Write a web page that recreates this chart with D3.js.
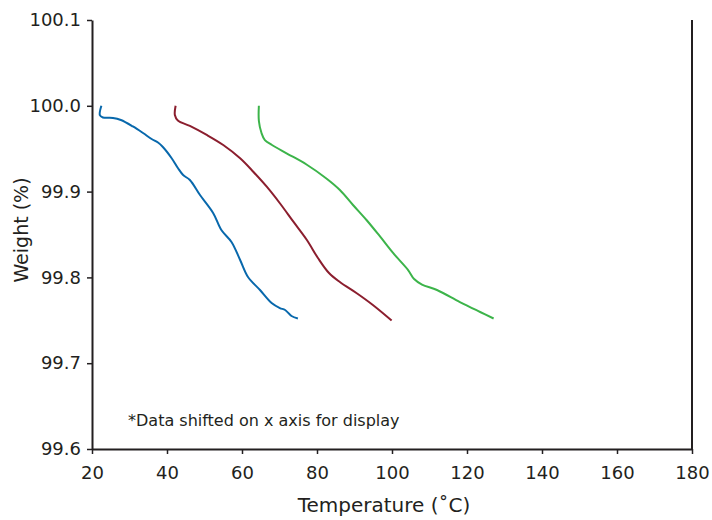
<!DOCTYPE html>
<html>
<head>
<meta charset="utf-8">
<script src="https://cdn.jsdelivr.net/npm/d3@7"></script>
<style>
  body { margin: 0; background: #fff; }
  svg text { font-family: "DejaVu Sans", sans-serif; fill: #231f20; }
</style>
</head>
<body>
<svg id="graph" width="712" height="520"></svg>
<script>
// x ticks / y ticks
const xTicks = [20, 40, 60, 80, 100, 120, 140, 160, 180];
const yTicks = [99.6, 99.7, 99.8, 99.9, 100.0, 100.1];

// sample 1 (blue)
const blueTemp = [22.5, 22.1, 22.9, 25.6, 27.7, 30.9, 33.6, 35.9, 37.6, 38.9, 41.2, 42.9, 44.3, 46.1, 48.8, 52.3, 54.5, 57.2, 59.5, 61.6, 64.8, 67.9, 70.1, 71.5, 73.2, 74.9];
const blueWeight = [100.0, 99.989, 99.9864, 99.9858, 99.9834, 99.9759, 99.9683, 99.9613, 99.9572, 99.952, 99.9392, 99.9275, 99.9193, 99.9135, 99.896, 99.8751, 99.8552, 99.8413, 99.8203, 99.8005, 99.7853, 99.7702, 99.7643, 99.762, 99.755, 99.7521];

// sample 2 (maroon)
const redTemp = [42.3, 42.1, 42.9, 46.1, 50.6, 55.0, 59.5, 63.0, 66.6, 70.1, 73.7, 77.3, 80.3, 83.2, 86.1, 90.7, 94.9, 99.9];
const redWeight = [100.0, 99.9893, 99.9829, 99.9765, 99.966, 99.9543, 99.9388, 99.9232, 99.9057, 99.8864, 99.8649, 99.8436, 99.8223, 99.8051, 99.7946, 99.7812, 99.7678, 99.7497];

// sample 3 (green)
const greenTemp = [64.5, 64.5, 65.2, 66.1, 68.0, 72.0, 77.2, 82.5, 86.1, 89.6, 93.2, 96.8, 100.4, 104.3, 105.9, 108.0, 112.0, 118.1, 123.5, 127.1];
const greenWeight = [100.0, 99.9823, 99.9683, 99.9601, 99.9543, 99.9444, 99.9316, 99.9153, 99.9019, 99.8844, 99.8669, 99.8477, 99.8279, 99.8086, 99.7981, 99.7917, 99.7853, 99.7713, 99.7597, 99.7521];

const series = [
    {t: blueTemp, w: blueWeight, color: "#0868ac"},
    {t: redTemp, w: redWeight, color: "#8b1e2e"},
    {t: greenTemp, w: greenWeight, color: "#3cb44a"}
];

const svg = d3.select("#graph");
const plotLeft = 92, plotRight = 692, plotTop = 20, plotBottom = 449;

const xScale = d3.scaleLinear().domain([20, 180]).range([plotLeft, plotRight]);
const yScale = d3.scaleLinear().domain([99.6, 100.1]).range([plotBottom, plotTop]);

// x-axis
const xAxis = svg.append("g")
    .attr("transform", `translate(0, ${plotBottom})`)
    .call(d3.axisBottom(xScale).tickValues(xTicks).tickFormat(d3.format("d"))
        .tickSize(5).tickSizeOuter(0).tickPadding(12));

// y-axis
const yAxis = svg.append("g")
    .attr("transform", `translate(${plotLeft}, 0)`)
    .call(d3.axisLeft(yScale).tickValues(yTicks).tickFormat(d3.format(".1f"))
        .tickSize(5).tickSizeOuter(0).tickPadding(6));

[xAxis, yAxis].forEach(function(g) {
    g.select(".domain").attr("stroke", "#231f20").attr("stroke-width", 2);
    g.selectAll(".tick line").attr("stroke", "#231f20").attr("stroke-width", 1.5);
    g.selectAll(".tick text").style("font-size", "18px").attr("fill", "#231f20");
});

// right border line
svg.append("line")
    .attr("x1", xScale(180)).attr("x2", xScale(180))
    .attr("y1", yScale(100.1)).attr("y2", yScale(99.6))
    .attr("stroke", "#231f20")
    .attr("stroke-width", 2);

// curves
const line = d3.line()
    .x(function(d) { return xScale(d[0]); })
    .y(function(d) { return yScale(d[1]); })
    .curve(d3.curveCatmullRom.alpha(0.5));

series.forEach(function(s) {
    const pts = s.t.map(function(t, i) { return [t, s.w[i]]; });
    svg.append("path")
        .datum(pts)
        .attr("fill", "none")
        .attr("stroke", s.color)
        .attr("stroke-width", 2)
        .attr("stroke-linejoin", "round")
        .attr("d", line);
});

// labels
svg.append("text")
    .attr("x", 384)
    .attr("y", 512)
    .attr("text-anchor", "middle")
    .style("font-size", "20px")
    .text("Temperature (˚C)");

svg.append("text")
    .attr("text-anchor", "middle")
    .attr("transform", "translate(28, 230) rotate(-90)")
    .style("font-size", "19px")
    .text("Weight (%)");

svg.append("text")
    .attr("x", 128)
    .attr("y", 426)
    .style("font-size", "16px")
    .text("*Data shifted on x axis for display");
</script>
</body>
</html>
